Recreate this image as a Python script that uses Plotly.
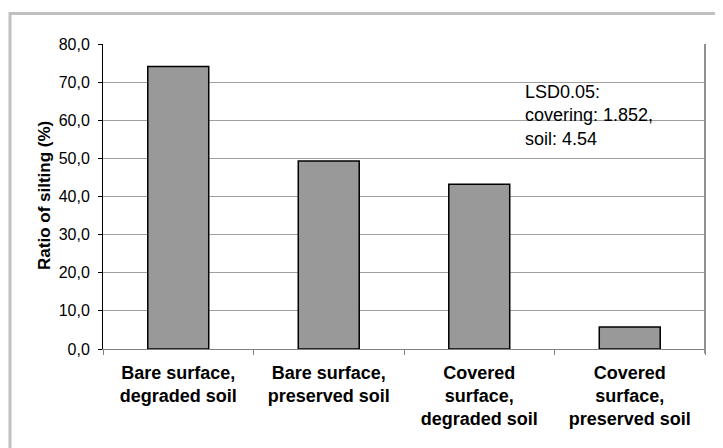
import plotly.graph_objects as go

categories = [
    "Bare surface,<br>degraded soil",
    "Bare surface,<br>preserved soil",
    "Covered<br>surface,<br>degraded soil",
    "Covered<br>surface,<br>preserved soil",
]
silting_ratio = [74.1, 49.3, 43.2, 5.8]
y_title = "Ratio of silting (%)"
lsd_note = "LSD0.05:<br>covering: 1.852,<br>soil: 4.54"

FONT = "Liberation Sans, Arial, sans-serif"

fig = go.Figure()
fig.add_trace(go.Bar(
    x=categories,
    y=silting_ratio,
    width=0.405,
    marker=dict(color="#999999", line=dict(color="#000000", width=1.5)),
    hoverinfo="x+y",
))

# The page body has an 8px default margin, so the figure is sized to fit the window.
fig.update_layout(
    width=715,
    height=440,
    margin=dict(l=95, r=18, t=36, b=99, autoexpand=False),
    paper_bgcolor="#ffffff",
    plot_bgcolor="#ffffff",
    separators=", ",
    showlegend=False,
    font=dict(family=FONT, color="#000000", size=16),
    xaxis=dict(
        type="category",
        automargin=False,
        showgrid=False,
        showline=True,
        linecolor="#808080",
        linewidth=1,
        ticks="outside",
        tickson="boundaries",
        ticklen=5,
        tickcolor="#808080",
        ticklabelstandoff=7,
        tickfont=dict(family=FONT, size=18, color="#000000", weight="bold"),
        zeroline=False,
    ),
    yaxis=dict(
        range=[0, 80],
        dtick=10,
        tick0=0,
        tickformat=".1f",
        automargin=False,
        showgrid=True,
        gridcolor="#a0a0a0",
        gridwidth=1,
        showline=True,
        linecolor="#000000",
        linewidth=1,
        ticks="outside",
        ticklen=4,
        tickcolor="#000000",
        ticklabelstandoff=5,
        tickfont=dict(family=FONT, size=16, color="#000000"),
        zeroline=False,
    ),
    shapes=[
        dict(type="line", xref="paper", yref="paper", x0=1, x1=1, y0=-0.015, y1=1,
             line=dict(color="#909090", width=2)),
        dict(type="rect", xref="paper", yref="paper", x0=-0.1545, x1=1.05, y0=-0.4, y1=1.1,
             line=dict(color="#c0c0c0", width=3), layer="below"),
    ],
    annotations=[
        dict(text=lsd_note, xref="paper", yref="y", x=0.698, y=61.3,
             xanchor="left", yanchor="middle", align="left", showarrow=False,
             font=dict(family=FONT, size=18, color="#000000")),
        dict(text="<b>" + y_title + "</b>", xref="paper", yref="paper",
             x=(45 - 103) / 602, y=0.505, textangle=-90,
             xanchor="center", yanchor="middle", showarrow=False,
             font=dict(family=FONT, size=17, color="#000000")),
    ],
)

fig.write_html("out.html")
